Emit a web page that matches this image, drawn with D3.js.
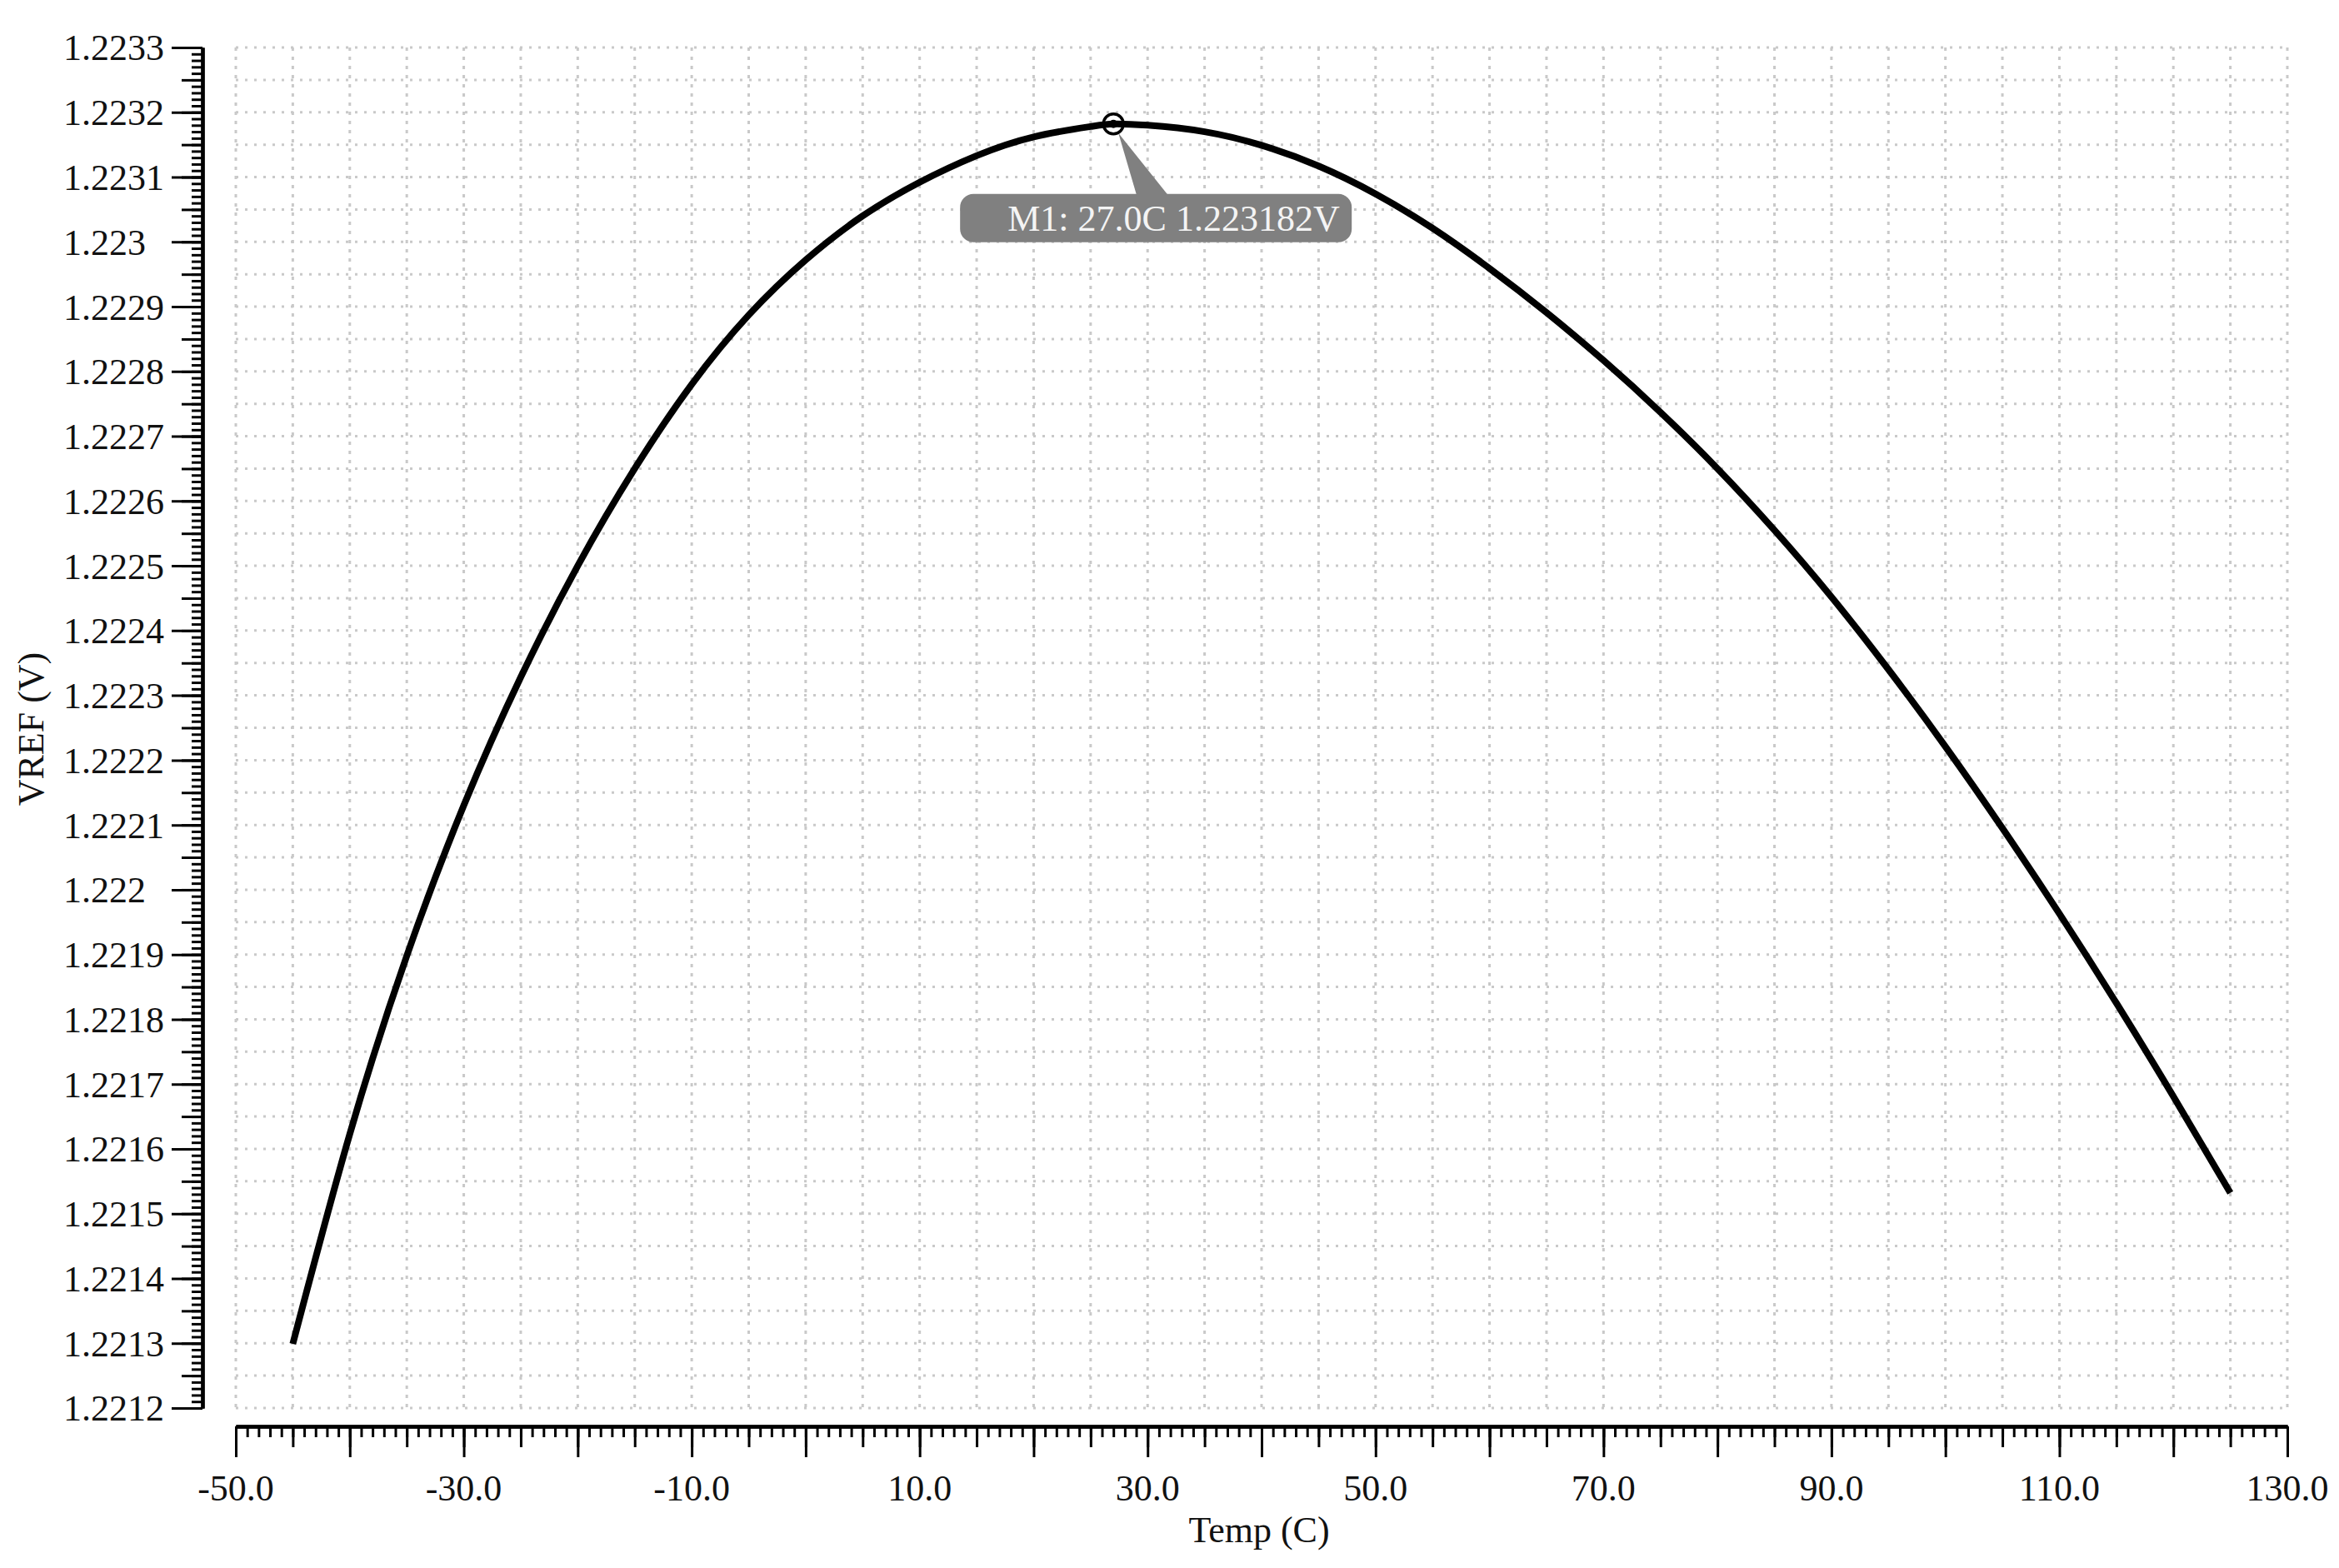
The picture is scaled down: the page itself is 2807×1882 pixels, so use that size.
<!DOCTYPE html>
<html>
<head>
<meta charset="utf-8">
<script src="https://cdn.jsdelivr.net/npm/d3@7"></script>
<style>
  body { margin: 0; background: #fff; }
  text { font-family: "Liberation Serif", "DejaVu Serif", serif; }
</style>
</head>
<body>
<script>
// VREF vs temperature sweep

var temps = [-45, -40, -35, -30, -25, -20, -15, -10, -5, 0, 5, 10, 15, 20, 25, 27,
  30, 35, 40, 45, 50, 55, 60, 65, 70, 75, 80, 85, 90, 95, 100, 105, 110, 115, 120, 125];
var vref = [1.221299, 1.221623, 1.221898, 1.222130, 1.222328, 1.222500, 1.222650, 1.222780,
  1.222887, 1.222972, 1.223040, 1.223092, 1.223133, 1.223162, 1.223178, 1.223182,
  1.223180, 1.223170, 1.223149, 1.223117, 1.223074, 1.223021, 1.222959, 1.222891,
  1.222817, 1.222737, 1.222650, 1.222555, 1.222452, 1.222340, 1.222221, 1.222095,
  1.221963, 1.221825, 1.221681, 1.221532];

var xTickLabels = ["-50.0", "-30.0", "-10.0", "10.0", "30.0", "50.0", "70.0", "90.0", "110.0", "130.0"];
var yTickLabels = ["1.2212", "1.2213", "1.2214", "1.2215", "1.2216", "1.2217", "1.2218", "1.2219",
  "1.222", "1.2221", "1.2222", "1.2223", "1.2224", "1.2225", "1.2226", "1.2227", "1.2228",
  "1.2229", "1.223", "1.2231", "1.2232", "1.2233"];

var marker = {name: "M1", temp: 27.0, v: 1.223182};

var width = 2807;
var height = 1882;
var fs = "44px";

var svg = d3.select("body")
  .append("svg")
  .attr("width", width)
  .attr("height", height);

svg.append("rect").attr("width", width).attr("height", height).attr("fill", "#fff");

var x = d3.scaleLinear().domain([-50, 130]).range([283, 2745]);
var y = d3.scaleLinear().domain([1.2212, 1.2233]).range([1690, 57]);

var yAxisX = 243;
var xAxisY = 1712;

// integer steps to avoid float drift
var r6 = function(v) { return Math.round(v * 1e6) / 1e6; };
var xMinor = d3.range(-50, 131, 1);
var xMid = d3.range(-50, 131, 5);
var xMajor = d3.range(-50, 131, 10);
var yMinor = d3.range(0, 211).map(function(i) { return r6(1.2212 + i * 0.00001); });
var yMid = d3.range(0, 43).map(function(i) { return r6(1.2212 + i * 0.00005); });
var yMajor = yTickLabels.map(function(s) { return +s; });

// grid
var grid = svg.append("g");
grid.selectAll(".hg")
  .data(yMid)
  .enter().append("line")
  .attr("x1", x(-50)).attr("x2", x(130))
  .attr("y1", function(d) { return y(d); })
  .attr("y2", function(d) { return y(d); })
  .attr("stroke", "#c9c9c9")
  .attr("stroke-width", 3)
  .attr("stroke-dasharray", "3,8");

grid.selectAll(".vg")
  .data(xMid)
  .enter().append("line")
  .attr("y1", y(1.2233)).attr("y2", y(1.2212))
  .attr("x1", function(d) { return x(d); })
  .attr("x2", function(d) { return x(d); })
  .attr("stroke", "#c9c9c9")
  .attr("stroke-width", 3)
  .attr("stroke-dasharray", "4,7");

// y axis: three tick layers
function yAx(vals, size, labels) {
  var g = svg.append("g")
    .attr("transform", "translate(" + yAxisX + ",0)")
    .call(d3.axisLeft(y).tickValues(vals).tickSize(size).tickSizeOuter(0)
      .tickFormat(labels ? function(d, i) { return yTickLabels[i]; } : ""));
  g.select(".domain").attr("stroke-width", 4).attr("stroke", "#000");
  g.selectAll(".tick line").attr("stroke-width", 3).attr("stroke", "#000");
  return g;
}
yAx(yMinor, 13, false);
yAx(yMid, 25, false);
var ya = yAx(yMajor, 37, true);
ya.selectAll(".tick text")
  .attr("x", 76 - yAxisX)
  .attr("dy", "0.34em")
  .attr("text-anchor", "start")
  .attr("fill", "#111")
  .style("font-size", fs)
  .style("font-family", "Liberation Serif");

// x axis
function xAx(vals, size) {
  var g = svg.append("g")
    .attr("transform", "translate(0," + xAxisY + ")")
    .call(d3.axisBottom(x).tickValues(vals).tickSize(size).tickSizeOuter(0).tickFormat(""));
  g.select(".domain").attr("stroke-width", 4).attr("stroke", "#000");
  g.selectAll(".tick line").attr("stroke-width", 3).attr("stroke", "#000");
  return g;
}
xAx(xMinor, 13);
xAx(xMid, 25);
xAx(xMajor, 37);

svg.append("g").selectAll("text")
  .data(xTickLabels)
  .enter().append("text")
  .attr("x", function(d) { return x(+d); })
  .attr("y", 1801)
  .attr("text-anchor", "middle")
  .attr("fill", "#111")
  .style("font-size", fs)
  .text(function(d) { return d; });

svg.append("text")
  .attr("x", 1511)
  .attr("y", 1851)
  .attr("text-anchor", "middle")
  .attr("fill", "#111")
  .style("font-size", fs)
  .text("Temp (C)");

svg.append("text")
  .attr("transform", "translate(52,875) rotate(-90)")
  .attr("text-anchor", "middle")
  .attr("fill", "#111")
  .style("font-size", fs)
  .text("VREF (V)");

// curve
var pts = temps.map(function(t, i) { return [t, vref[i]]; });
var line = d3.line()
  .x(function(d) { return x(d[0]); })
  .y(function(d) { return y(d[1]); })
  .curve(d3.curveNatural);

svg.append("path")
  .datum(pts)
  .attr("fill", "none")
  .attr("stroke", "#000")
  .attr("stroke-width", 8)
  .attr("stroke-linejoin", "round")
  .attr("d", line);

// marker + callout
var mx = x(marker.temp), my = y(marker.v);
var m = svg.append("g");
m.append("path")
  .attr("d", "M" + (mx + 6) + "," + (my + 11) + "L" + (mx + 28) + "," + (my + 86) +
    "L" + (mx + 66) + "," + (my + 86) + "Z")
  .attr("fill", "#808080");
m.append("rect")
  .attr("x", mx - 184)
  .attr("y", my + 84)
  .attr("width", 470)
  .attr("height", 58)
  .attr("rx", 16)
  .attr("fill", "#808080");
m.append("text")
  .attr("x", mx - 127)
  .attr("y", my + 128)
  .attr("fill", "#f4f4f4")
  .style("font-size", fs)
  .text(marker.name + ": " + marker.temp.toFixed(1) + "C " + marker.v.toFixed(6) + "V");
m.append("circle")
  .attr("cx", mx).attr("cy", my).attr("r", 12)
  .attr("fill", "none")
  .attr("stroke", "#000")
  .attr("stroke-width", 3.5);
m.append("circle")
  .attr("cx", mx).attr("cy", my).attr("r", 5)
  .attr("fill", "#000");
</script>
</body>
</html>
